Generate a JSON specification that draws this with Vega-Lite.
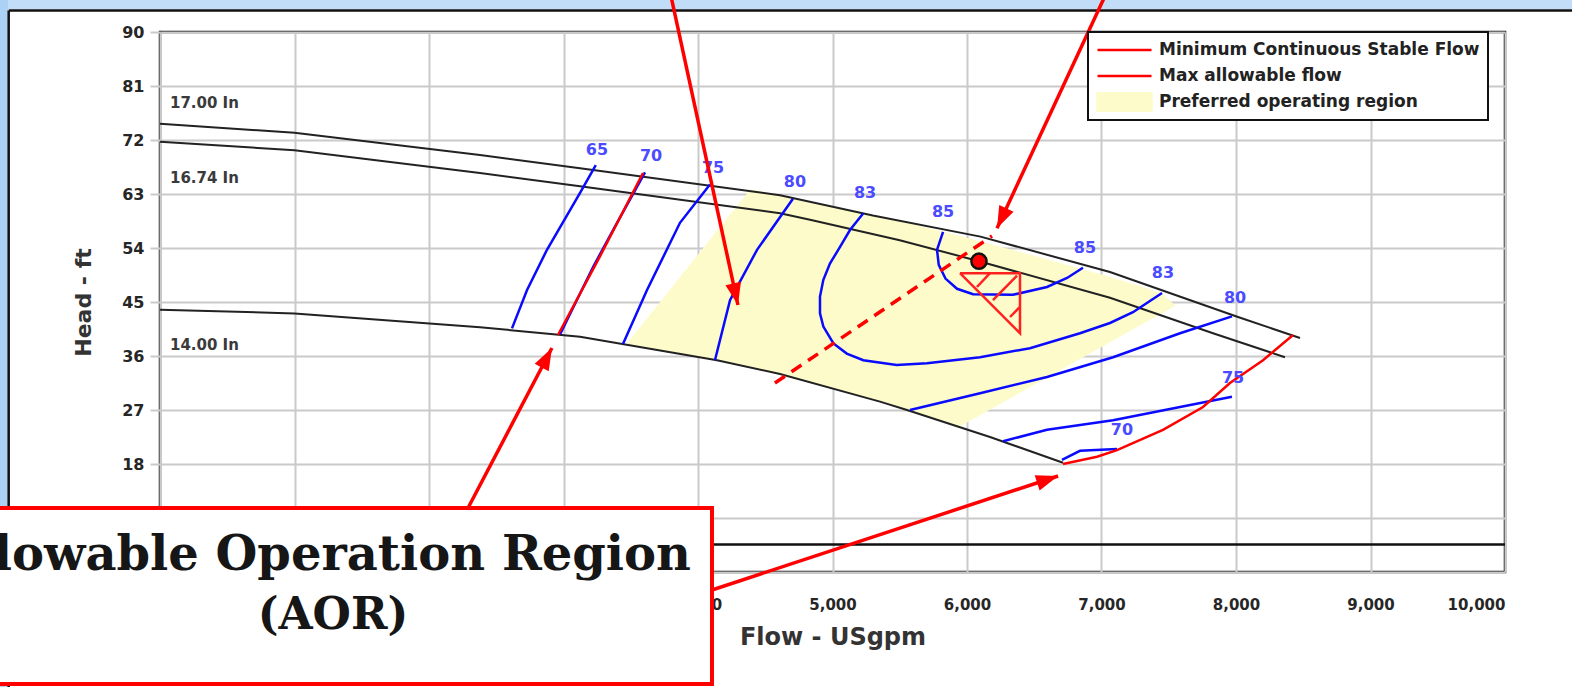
{
  "$schema": "https://vega.github.io/schema/vega-lite/v6.json",
  "width": 1345,
  "height": 540,
  "autosize": {"type": "none"},
  "padding": {"left": 160, "top": 32, "right": 67, "bottom": 115},
  "background": "white",
  "config": {
    "font": "DejaVu Sans",
    "view": {"stroke": "#111111", "strokeWidth": 2.5},
    "axis": {
      "grid": true,
      "gridColor": "#cacaca",
      "gridWidth": 2,
      "domain": false,
      "labelFont": "DejaVu Sans",
      "labelFontWeight": "bold",
      "labelFontSize": 15,
      "labelColor": "#262626",
      "titleFont": "DejaVu Sans",
      "titleFontWeight": "bold",
      "titleFontSize": 24,
      "titleColor": "#333333"
    },
    "axisX": {"ticks": false, "labelPadding": 25, "titlePadding": 13},
    "axisY": {"ticks": true, "tickSize": 10, "tickColor": "#cacaca", "tickWidth": 2, "labelPadding": 6, "labelFontSize": 16, "titlePadding": 26, "titleFontSize": 22}
  },
  "datasets": {
    "impeller": [
      {"dia": "17.00 in", "flow": 0, "head": 74.7},
      {"dia": "17.00 in", "flow": 1000, "head": 73.2},
      {"dia": "17.00 in", "flow": 2379, "head": 69.5},
      {"dia": "17.00 in", "flow": 3123, "head": 67.3},
      {"dia": "17.00 in", "flow": 4610, "head": 62.8},
      {"dia": "17.00 in", "flow": 5300, "head": 59.4},
      {"dia": "17.00 in", "flow": 6100, "head": 55.9},
      {"dia": "17.00 in", "flow": 7063, "head": 50.0},
      {"dia": "17.00 in", "flow": 8015, "head": 42.5},
      {"dia": "17.00 in", "flow": 8476, "head": 39.0},
      {"dia": "16.74 in", "flow": 0, "head": 71.7},
      {"dia": "16.74 in", "flow": 1000, "head": 70.3},
      {"dia": "16.74 in", "flow": 2379, "head": 66.5},
      {"dia": "16.74 in", "flow": 3123, "head": 64.3},
      {"dia": "16.74 in", "flow": 4610, "head": 59.8},
      {"dia": "16.74 in", "flow": 4833, "head": 58.7},
      {"dia": "16.74 in", "flow": 5500, "head": 55.3},
      {"dia": "16.74 in", "flow": 6089, "head": 51.8},
      {"dia": "16.74 in", "flow": 7063, "head": 45.7},
      {"dia": "16.74 in", "flow": 7829, "head": 39.8},
      {"dia": "16.74 in", "flow": 8364, "head": 35.8},
      {"dia": "14.00 in", "flow": 0, "head": 43.7},
      {"dia": "14.00 in", "flow": 1000, "head": 43.1},
      {"dia": "14.00 in", "flow": 2379, "head": 40.8},
      {"dia": "14.00 in", "flow": 3123, "head": 39.2},
      {"dia": "14.00 in", "flow": 4141, "head": 35.3},
      {"dia": "14.00 in", "flow": 4610, "head": 33.0},
      {"dia": "14.00 in", "flow": 5353, "head": 28.4},
      {"dia": "14.00 in", "flow": 5554, "head": 27.0},
      {"dia": "14.00 in", "flow": 6171, "head": 22.5},
      {"dia": "14.00 in", "flow": 6714, "head": 18.2}
    ],
    "efficiency": [
      {"curve": "65", "i": 0, "flow": 2617, "head": 40.6},
      {"curve": "65", "i": 1, "flow": 2729, "head": 47.0},
      {"curve": "65", "i": 2, "flow": 2877, "head": 53.7},
      {"curve": "65", "i": 3, "flow": 3123, "head": 63.2},
      {"curve": "65", "i": 4, "flow": 3240, "head": 67.8},
      {"curve": "70L", "i": 0, "flow": 2974, "head": 39.6},
      {"curve": "70L", "i": 1, "flow": 3219, "head": 50.8},
      {"curve": "70L", "i": 2, "flow": 3398, "head": 58.2},
      {"curve": "70L", "i": 3, "flow": 3606, "head": 66.6},
      {"curve": "75L", "i": 0, "flow": 3442, "head": 38.0},
      {"curve": "75L", "i": 1, "flow": 3621, "head": 47.0},
      {"curve": "75L", "i": 2, "flow": 3866, "head": 58.2},
      {"curve": "75L", "i": 3, "flow": 4089, "head": 64.6},
      {"curve": "80L", "i": 0, "flow": 4126, "head": 35.3},
      {"curve": "80L", "i": 1, "flow": 4238, "head": 45.3},
      {"curve": "80L", "i": 2, "flow": 4439, "head": 53.7},
      {"curve": "80L", "i": 3, "flow": 4706, "head": 62.2},
      {"curve": "83", "i": 0, "flow": 5229, "head": 59.8},
      {"curve": "83", "i": 1, "flow": 5130, "head": 57.0},
      {"curve": "83", "i": 2, "flow": 5056, "head": 54.2},
      {"curve": "83", "i": 3, "flow": 4981, "head": 51.4},
      {"curve": "83", "i": 4, "flow": 4932, "head": 48.7},
      {"curve": "83", "i": 5, "flow": 4907, "head": 45.9},
      {"curve": "83", "i": 6, "flow": 4907, "head": 43.1},
      {"curve": "83", "i": 7, "flow": 4932, "head": 40.9},
      {"curve": "83", "i": 8, "flow": 5007, "head": 38.1},
      {"curve": "83", "i": 9, "flow": 5106, "head": 36.4},
      {"curve": "83", "i": 10, "flow": 5229, "head": 35.3},
      {"curve": "83", "i": 11, "flow": 5477, "head": 34.5},
      {"curve": "83", "i": 12, "flow": 5703, "head": 34.8},
      {"curve": "83", "i": 13, "flow": 6097, "head": 35.8},
      {"curve": "83", "i": 14, "flow": 6468, "head": 37.3},
      {"curve": "83", "i": 15, "flow": 6840, "head": 39.8},
      {"curve": "83", "i": 16, "flow": 7063, "head": 41.5},
      {"curve": "83", "i": 17, "flow": 7234, "head": 43.3},
      {"curve": "83", "i": 18, "flow": 7450, "head": 46.5},
      {"curve": "85", "i": 0, "flow": 5822, "head": 56.7},
      {"curve": "85", "i": 1, "flow": 5777, "head": 53.7},
      {"curve": "85", "i": 2, "flow": 5790, "head": 51.2},
      {"curve": "85", "i": 3, "flow": 5840, "head": 48.9},
      {"curve": "85", "i": 4, "flow": 5926, "head": 47.2},
      {"curve": "85", "i": 5, "flow": 6045, "head": 46.3},
      {"curve": "85", "i": 6, "flow": 6342, "head": 46.2},
      {"curve": "85", "i": 7, "flow": 6595, "head": 47.5},
      {"curve": "85", "i": 8, "flow": 6744, "head": 49.0},
      {"curve": "85", "i": 9, "flow": 6862, "head": 50.7},
      {"curve": "80R", "i": 0, "flow": 5576, "head": 27.0},
      {"curve": "80R", "i": 1, "flow": 6097, "head": 29.8},
      {"curve": "80R", "i": 2, "flow": 6595, "head": 32.5},
      {"curve": "80R", "i": 3, "flow": 7086, "head": 35.8},
      {"curve": "80R", "i": 4, "flow": 7584, "head": 39.8},
      {"curve": "80R", "i": 5, "flow": 7970, "head": 42.6},
      {"curve": "75R", "i": 0, "flow": 6268, "head": 21.8},
      {"curve": "75R", "i": 1, "flow": 6595, "head": 23.7},
      {"curve": "75R", "i": 2, "flow": 7086, "head": 25.3},
      {"curve": "75R", "i": 3, "flow": 7584, "head": 27.5},
      {"curve": "75R", "i": 4, "flow": 7970, "head": 29.2},
      {"curve": "70R", "i": 0, "flow": 6706, "head": 18.7},
      {"curve": "70R", "i": 1, "flow": 6840, "head": 20.2},
      {"curve": "70R", "i": 2, "flow": 7115, "head": 20.5}
    ],
    "limits": [
      {"kind": "Minimum Continuous Stable Flow", "i": 0, "flow": 2959, "head": 39.5},
      {"kind": "Minimum Continuous Stable Flow", "i": 1, "flow": 3271, "head": 52.6},
      {"kind": "Minimum Continuous Stable Flow", "i": 2, "flow": 3591, "head": 66.5},
      {"kind": "Max allowable flow", "i": 0, "flow": 6714, "head": 18.0},
      {"kind": "Max allowable flow", "i": 1, "flow": 6967, "head": 19.2},
      {"kind": "Max allowable flow", "i": 2, "flow": 7115, "head": 20.3},
      {"kind": "Max allowable flow", "i": 3, "flow": 7457, "head": 23.7},
      {"kind": "Max allowable flow", "i": 4, "flow": 7755, "head": 27.5},
      {"kind": "Max allowable flow", "i": 5, "flow": 7955, "head": 31.5},
      {"kind": "Max allowable flow", "i": 6, "flow": 8201, "head": 35.3},
      {"kind": "Max allowable flow", "i": 7, "flow": 8424, "head": 39.5}
    ],
    "preferred": [
      {"kind": "Preferred operating region", "flow": 3470, "upper": 38.0, "lower": 38.0},
      {"kind": "Preferred operating region", "flow": 4000, "upper": 52.9, "lower": 35.8},
      {"kind": "Preferred operating region", "flow": 4390, "upper": 63.8, "lower": 34.2},
      {"kind": "Preferred operating region", "flow": 5000, "upper": 61.0, "lower": 30.6},
      {"kind": "Preferred operating region", "flow": 5500, "upper": 58.5, "lower": 27.4},
      {"kind": "Preferred operating region", "flow": 5950, "upper": 56.0, "lower": 24.3},
      {"kind": "Preferred operating region", "flow": 6500, "upper": 52.7, "lower": 31.2},
      {"kind": "Preferred operating region", "flow": 7000, "upper": 49.6, "lower": 37.5},
      {"kind": "Preferred operating region", "flow": 7300, "upper": 47.6, "lower": 41.3},
      {"kind": "Preferred operating region", "flow": 7450, "upper": 46.4, "lower": 43.1},
      {"kind": "Preferred operating region", "flow": 7550, "upper": 44.4, "lower": 44.4}
    ],
    "effLabels": [
      {"text": "65", "flow": 3249, "head": 70.3},
      {"text": "70", "flow": 3651, "head": 69.3},
      {"text": "75", "flow": 4112, "head": 67.3},
      {"text": "80", "flow": 4721, "head": 65.0},
      {"text": "83", "flow": 5242, "head": 63.2},
      {"text": "85", "flow": 5822, "head": 60.0},
      {"text": "85", "flow": 6877, "head": 54.0},
      {"text": "83", "flow": 7457, "head": 49.8},
      {"text": "80", "flow": 7993, "head": 45.7},
      {"text": "75", "flow": 7978, "head": 32.3},
      {"text": "70", "flow": 7152, "head": 23.7}
    ],
    "diaLabels": [
      {"text": "17.00 In", "flow": 74, "head": 78.2},
      {"text": "16.74 In", "flow": 74, "head": 65.7},
      {"text": "14.00 In", "flow": 74, "head": 37.8}
    ],
    "arrows": [
      {"id": "a1", "i": 0, "flow": 3799, "head": 96.0},
      {"id": "a1", "i": 1, "flow": 4297, "head": 44.5},
      {"id": "a2", "i": 0, "flow": 7026, "head": 96.0},
      {"id": "a2", "i": 1, "flow": 6223, "head": 57.3},
      {"id": "a3", "i": 0, "flow": 2290, "head": 10.67},
      {"id": "a3", "i": 1, "flow": 2914, "head": 37.33},
      {"id": "a4", "i": 0, "flow": 4104, "head": -3.0},
      {"id": "a4", "i": 1, "flow": 6677, "head": 16.0}
    ]
  },
  "encoding": {
    "x": {
      "field": "flow",
      "type": "quantitative",
      "scale": {"domain": [0, 10000], "nice": false, "zero": false},
      "axis": {"title": "Flow - USgpm", "values": [0, 1000, 2000, 3000, 4000, 5000, 6000, 7000, 8000, 9000, 10000], "format": ",d"}
    },
    "y": {
      "field": "head",
      "type": "quantitative",
      "scale": {"domain": [0, 90], "nice": false, "zero": false},
      "axis": {"title": "Head - ft", "values": [0, 9, 18, 27, 36, 45, 54, 63, 72, 81, 90]}
    }
  },
  "layer": [
    {
      "data": {"values": [{"flow": -1300, "flow2": 10800, "head": 97, "head2": 93.8}]},
      "mark": {"type": "rect", "color": "#c2ddf7"},
      "encoding": {"x2": {"field": "flow2"}, "y2": {"field": "head2"}}
    },
    {
      "data": {"values": [{"flow": -1300, "flow2": -1130, "head": 97, "head2": -25}]},
      "mark": {"type": "rect", "color": "#add1f4"},
      "encoding": {"x2": {"field": "flow2"}, "y2": {"field": "head2"}}
    },
    {
      "data": {"values": [
        {"flow": -1125, "flow2": 10800, "head": 93.6, "head2": 93.6},
        {"flow": -1125, "flow2": -1125, "head": 93.6, "head2": -25}
      ]},
      "mark": {"type": "rule", "color": "#111111", "strokeWidth": 2.5},
      "encoding": {"x2": {"field": "flow2"}, "y2": {"field": "head2"}}
    },
    {
      "data": {"name": "preferred"},
      "mark": {"type": "area", "opacity": 1},
      "encoding": {
        "y": {"field": "upper", "type": "quantitative", "scale": {"domain": [0, 90], "nice": false, "zero": false}},
        "y2": {"field": "lower"},
        "color": {
          "field": "kind",
          "type": "nominal",
          "scale": {"domain": ["Minimum Continuous Stable Flow", "Max allowable flow", "Preferred operating region"], "range": ["#ff0000", "#ff0000", "#fcfbc9"]},
          "legend": {
            "orient": "none", "legendX": 928, "legendY": 0,
            "title": null, "symbolType": "stroke", "symbolSize": 2916, "symbolStrokeWidth": 2.5,
            "clipHeight": 20, "rowPadding": 6, "padding": 8,
            "labelFont": "DejaVu Sans", "labelFontWeight": "bold", "labelFontSize": 17, "labelColor": "#222222",
            "labelLimit": 600, "labelOffset": 6,
            "fillColor": "white", "strokeColor": "#111111",
            "encode": {
              "symbols": {"update": {
                "shape": {"signal": "datum.value === 'Preferred operating region' ? 'M-1,-0.34H1V0.34H-1Z' : 'stroke'"},
                "fill": {"signal": "datum.value === 'Preferred operating region' ? '#fcfbc9' : 'transparent'"},
                "stroke": {"signal": "datum.value === 'Preferred operating region' ? 'transparent' : '#ff0000'"},
                "opacity": {"value": 1}
              }},
              "legend": {"update": {"strokeWidth": {"value": 2}}}
            }
          }
        }
      }
    },
    {
      "data": {"name": "impeller"},
      "mark": {"type": "line", "color": "#222222", "strokeWidth": 2},
      "encoding": {"detail": {"field": "dia"}}
    },
    {
      "data": {"name": "efficiency"},
      "mark": {"type": "line", "color": "#0a0aff", "strokeWidth": 2.5},
      "encoding": {"detail": {"field": "curve"}, "order": {"field": "i", "type": "quantitative"}}
    },
    {
      "data": {"name": "limits"},
      "mark": {"type": "line", "strokeWidth": 2.5},
      "encoding": {
        "color": {
          "field": "kind",
          "type": "nominal",
          "scale": {"domain": ["Minimum Continuous Stable Flow", "Max allowable flow", "Preferred operating region"], "range": ["#ff0000", "#ff0000", "#fcfbc9"]},
          "legend": {
            "orient": "none", "legendX": 928, "legendY": 0,
            "title": null, "symbolType": "stroke", "symbolSize": 2916, "symbolStrokeWidth": 2.5,
            "clipHeight": 20, "rowPadding": 6, "padding": 8,
            "labelFont": "DejaVu Sans", "labelFontWeight": "bold", "labelFontSize": 17, "labelColor": "#222222",
            "labelLimit": 600, "labelOffset": 6,
            "fillColor": "white", "strokeColor": "#111111",
            "encode": {
              "symbols": {"update": {
                "shape": {"signal": "datum.value === 'Preferred operating region' ? 'M-1,-0.34H1V0.34H-1Z' : 'stroke'"},
                "fill": {"signal": "datum.value === 'Preferred operating region' ? '#fcfbc9' : 'transparent'"},
                "stroke": {"signal": "datum.value === 'Preferred operating region' ? 'transparent' : '#ff0000'"},
                "opacity": {"value": 1}
              }},
              "legend": {"update": {"strokeWidth": {"value": 2}}}
            }
          }
        },
        "order": {"field": "i", "type": "quantitative"}
      }
    },
    {
      "data": {"values": [{"flow": 0, "flow2": 10000, "head": 4.6}]},
      "mark": {"type": "rule", "color": "#111111", "strokeWidth": 2.5},
      "encoding": {"x2": {"field": "flow2"}}
    },
    {
      "data": {"values": [{"flow": 4572, "head": 31.5}, {"flow": 6186, "head": 56.0}]},
      "mark": {"type": "line", "color": "#ff0000", "strokeWidth": 3.5, "strokeDash": [12, 8]},
      "encoding": {}
    },
    {
      "data": {"values": [
        {"seg": "tri", "i": 0, "flow": 5948, "head": 49.8},
        {"seg": "tri", "i": 1, "flow": 6394, "head": 49.8},
        {"seg": "tri", "i": 2, "flow": 6394, "head": 39.8},
        {"seg": "tri", "i": 3, "flow": 5948, "head": 49.8},
        {"seg": "h1", "i": 0, "flow": 6074, "head": 47.5},
        {"seg": "h1", "i": 1, "flow": 6171, "head": 49.8},
        {"seg": "h2", "i": 0, "flow": 6193, "head": 45.3},
        {"seg": "h2", "i": 1, "flow": 6372, "head": 49.4},
        {"seg": "h3", "i": 0, "flow": 6320, "head": 42.5},
        {"seg": "h3", "i": 1, "flow": 6394, "head": 44.2}
      ]},
      "mark": {"type": "line", "color": "#ff2020", "strokeWidth": 2.5},
      "encoding": {"detail": {"field": "seg"}, "order": {"field": "i", "type": "quantitative"}}
    },
    {
      "data": {"values": [{"flow": 6089, "head": 51.8}]},
      "mark": {"type": "point", "filled": true, "fill": "#ff0000", "stroke": "#111111", "strokeWidth": 2.5, "size": 230, "opacity": 1}
    },
    {
      "data": {"name": "effLabels"},
      "mark": {"type": "text", "font": "DejaVu Sans", "fontWeight": "bold", "fontSize": 16, "color": "#4b4bff", "align": "center", "baseline": "middle"},
      "encoding": {"text": {"field": "text"}}
    },
    {
      "data": {"name": "diaLabels"},
      "mark": {"type": "text", "font": "DejaVu Sans", "fontWeight": "bold", "fontSize": 15, "color": "#3a3a3a", "align": "left", "baseline": "middle"},
      "encoding": {"text": {"field": "text"}}
    },
    {
      "data": {"values": [{"flow": -1227, "flow2": 4104, "head": 10.67, "head2": -18.67}]},
      "mark": {"type": "rect", "fill": "white", "stroke": "#ff0000", "strokeWidth": 4},
      "encoding": {"x2": {"field": "flow2"}, "y2": {"field": "head2"}}
    },
    {
      "data": {"values": [{"text": "Allowable Operation Region", "flow": 1150, "head": 2.6}]},
      "mark": {"type": "text", "font": "DejaVu Serif", "fontWeight": "bold", "fontSize": 48, "color": "#161616", "align": "center", "baseline": "middle"},
      "encoding": {"text": {"field": "text"}}
    },
    {
      "data": {"values": [{"text": "(AOR)", "flow": 1286, "head": -7.3}]},
      "mark": {"type": "text", "font": "DejaVu Serif", "fontWeight": "bold", "fontSize": 44, "color": "#161616", "align": "center", "baseline": "middle"},
      "encoding": {"text": {"field": "text"}}
    },
    {
      "data": {"name": "arrows"},
      "mark": {"type": "line", "color": "#ff0000", "strokeWidth": 3.5},
      "encoding": {"detail": {"field": "id"}, "order": {"field": "i", "type": "quantitative"}}
    },
    {
      "data": {"values": [{"flow": 4297, "head": 44.5}]},
      "mark": {"type": "point", "shape": "M0,0L0.72,2L-0.72,2Z", "size": 484, "angle": 167.6, "filled": true, "color": "#ff0000", "opacity": 1}
    },
    {
      "data": {"values": [{"flow": 6223, "head": 57.3}]},
      "mark": {"type": "point", "shape": "M0,0L0.72,2L-0.72,2Z", "size": 484, "angle": 205.3, "filled": true, "color": "#ff0000", "opacity": 1}
    },
    {
      "data": {"values": [{"flow": 2914, "head": 37.33}]},
      "mark": {"type": "point", "shape": "M0,0L0.72,2L-0.72,2Z", "size": 484, "angle": 27.7, "filled": true, "color": "#ff0000", "opacity": 1}
    },
    {
      "data": {"values": [{"flow": 6677, "head": 16.0}]},
      "mark": {"type": "point", "shape": "M0,0L0.72,2L-0.72,2Z", "size": 484, "angle": 71.8, "filled": true, "color": "#ff0000", "opacity": 1}
    }
  ]
}
